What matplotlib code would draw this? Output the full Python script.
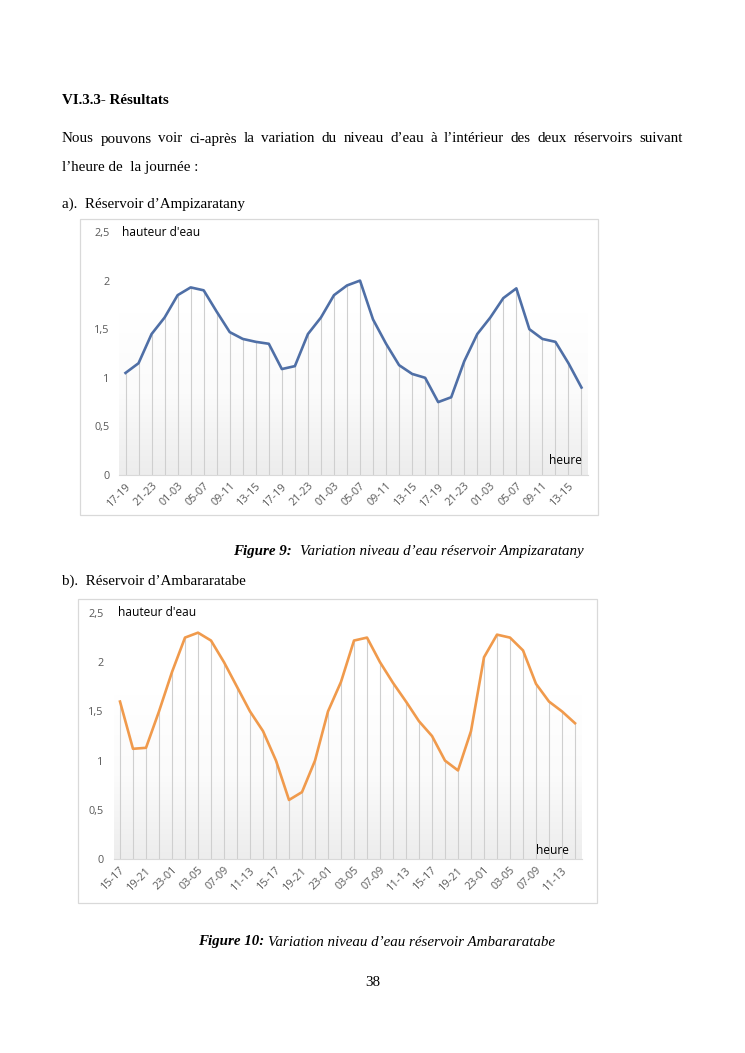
import numpy as np
import matplotlib
matplotlib.use("Agg")
import matplotlib.pyplot as plt
from matplotlib.patches import Rectangle
from matplotlib.colors import LinearSegmentedColormap

W, H = 745, 1053

# ---- data ----
hours_a = ["17-19", "19-21", "21-23", "23-01", "01-03", "03-05",
           "05-07", "07-09", "09-11", "11-13", "13-15", "15-17"] * 3
level_a = [1.05, 1.15, 1.45, 1.62, 1.85, 1.93, 1.90, 1.68, 1.47, 1.40, 1.37, 1.35,
           1.09, 1.12, 1.45, 1.62, 1.85, 1.95, 2.00, 1.60, 1.35, 1.13, 1.04, 1.00,
           0.75, 0.80, 1.17, 1.45, 1.62, 1.82, 1.92, 1.50, 1.40, 1.37, 1.15, 0.90]

hours_b = ["15-17", "17-19", "19-21", "21-23", "23-01", "01-03",
           "03-05", "05-07", "07-09", "09-11", "11-13", "13-15"] * 3
level_b = [1.60, 1.12, 1.13, 1.50, 1.90, 2.25, 2.30, 2.22, 2.00, 1.75, 1.50, 1.30,
           1.00, 0.60, 0.68, 1.00, 1.50, 1.80, 2.22, 2.25, 2.00, 1.79, 1.60, 1.40,
           1.25, 1.00, 0.90, 1.30, 2.05, 2.28, 2.25, 2.12, 1.78, 1.60, 1.50, 1.38]

yticks = [0, 0.5, 1, 1.5, 2, 2.5]

BLUE = "#4f6fa6"
ORANGE = "#f09a4c"
GRAY_TXT = "#595959"
SERIF = "Liberation Serif"
SANS = "Open Sans"

fig = plt.figure(figsize=(W / 100, H / 100), dpi=100)


def fx(px):
    return px / W


def fy(py):
    return 1 - py / H


def box(x0, y0, x1, y1):
    fig.patches.append(Rectangle((fx(x0), fy(y1)), fx(x1) - fx(x0), fy(y0) - fy(y1),
                                 transform=fig.transFigure, fill=False,
                                 edgecolor="#d9d9d9", lw=0.9))


grad = LinearSegmentedColormap.from_list("g", ["#ffffff", "#ffffff", "#fbfbfb", "#ededed"])


def chart(left, right, top, bottom, cats, vals, color, lab_x, heure_x, heure_y):
    ax = fig.add_axes([fx(left), fy(bottom), fx(right) - fx(left), fy(top) - fy(bottom)])
    n = len(vals)
    x = np.arange(n)
    ax.set_xlim(-0.5, n - 0.5)
    ax.set_ylim(0, 2.5)
    ax.imshow(np.linspace(0, 1, 100)[:, None], extent=(-0.5, n - 0.5, 0, 2.5),
              aspect="auto", cmap=grad, origin="upper", zorder=0)
    ax.vlines(x, 0, vals, color="#cfcfcf", lw=0.8, zorder=1)
    ax.plot(x, vals, color=color, lw=1.9, zorder=3, solid_joinstyle="round")
    for s in ["top", "right", "left"]:
        ax.spines[s].set_visible(False)
    ax.spines["bottom"].set_color("#d9d9d9")
    ax.set_yticks(yticks)
    ax.set_yticklabels([f"{v:g}".replace(".", ",") for v in yticks],
                       fontsize=7.8, color=GRAY_TXT, family=SANS)
    ax.set_xticks(x[::2])
    ax.set_xticklabels(cats[::2], rotation=45, ha="right", rotation_mode="anchor",
                       fontsize=7.8, color=GRAY_TXT, family=SANS)
    ax.tick_params(length=0, pad=4)
    ax.tick_params(axis="y", pad=7)
    ax.text(lab_x, 2.5, "hauteur d'eau", ha="left", va="center", fontsize=8.6,
            family=SANS, color="black", clip_on=False)
    ax.text(heure_x, heure_y, "heure", ha="right", va="center", fontsize=8.6,
            family=SANS, color="black")
    return ax


box(80, 219, 598, 515)
chart(119, 588, 232, 475, hours_a, level_a, BLUE, -0.25, 35, 0.15)
box(78, 599, 597, 903)
chart(113.5, 581.5, 613, 859, hours_b, level_b, ORANGE, -0.15, 34.5, 0.09)

# ---- page text ----
FS = 10.8


def t(px, py, s, **kw):
    kw.setdefault("family", SERIF)
    kw.setdefault("fontsize", FS)
    return fig.text(fx(px), fy(py), s, va="center", **kw)


t(62, 100, "VI.3.3- Résultats", weight="bold")

# justified first line of the paragraph
words = "Nous pouvons voir ci-après la variation du niveau d’eau à l’intérieur des deux réservoirs suivant".split()
r = fig.canvas.get_renderer()
arts = [t(0, 139, w_) for w_ in words]
widths = [a.get_window_extent(r).width for a in arts]
x0, x1 = 62, 683
gap = (x1 - x0 - sum(widths)) / (len(words) - 1)
cur = x0
for a, w_ in zip(arts, widths):
    a.set_x(fx(cur))
    cur += w_ + gap

t(62, 167, "l’heure de  la journée :")
t(62, 204, "a).  Réservoir d’Ampizaratany")

cap1 = t(233, 551, "Figure 9:", weight="bold", style="italic")
w1 = cap1.get_window_extent(r).width
t(233 + w1 + 8, 551, "Variation niveau d’eau réservoir Ampizaratany", style="italic")

t(62, 581, "b).  Réservoir d’Ambararatabe")

cap2 = t(198, 942, "Figure 10:", weight="bold", style="italic")
w2 = cap2.get_window_extent(r).width
t(198 + w2 + 4, 942, "Variation niveau d’eau réservoir Ambararatabe", style="italic")

t(373, 982, "38", ha="center")

fig.savefig("out.png", dpi=100)
